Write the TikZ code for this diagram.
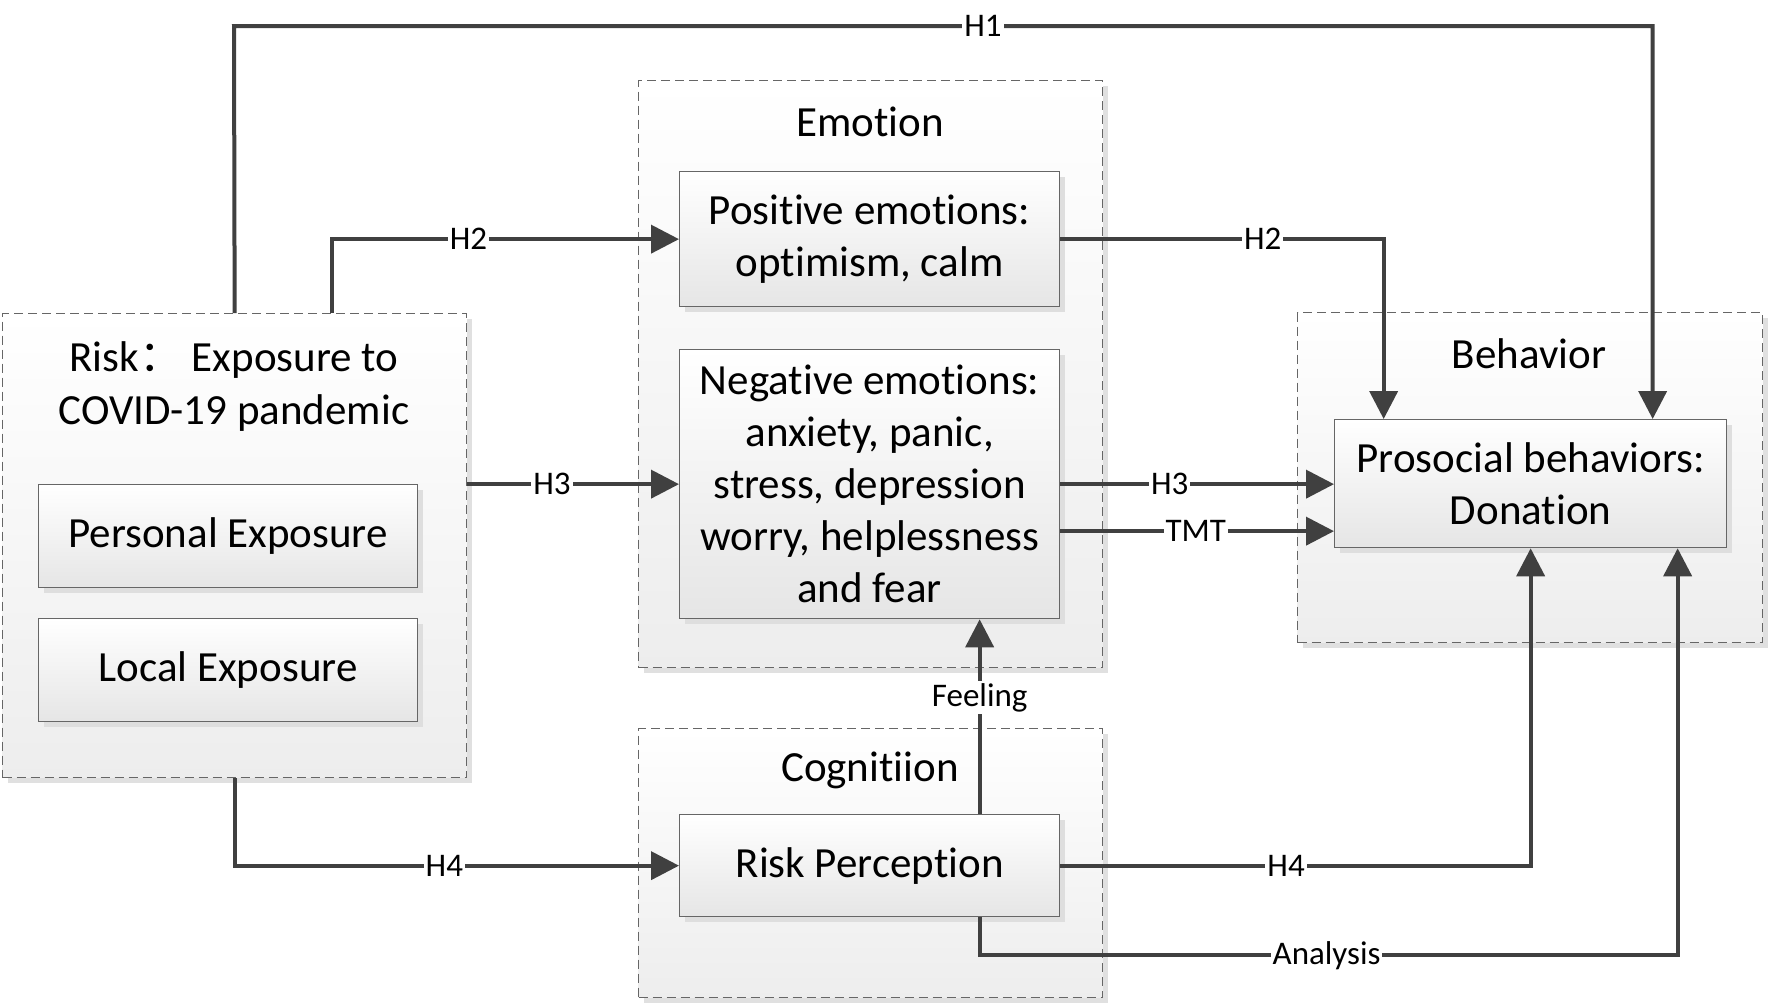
\documentclass[tikz,border=0pt]{standalone}
\usepackage{fontspec}
\setmainfont{Carlito}[Ligatures={NoCommon}]
\newfontfamily\cjkfont{Noto Sans CJK SC}
\usetikzlibrary{arrows.meta,shadows}
\definecolor{linec}{HTML}{404040}
\tikzset{
  container/.style={draw=black!60, line width=1.3pt, dash pattern=on 9pt off 5pt,
    top color=white, bottom color=black!7,
    drop shadow={fill=black!12, opacity=1, shadow xshift=5pt, shadow yshift=-5pt},
    anchor=north west, inner sep=0pt},
  box/.style={draw=black!60, line width=1.3pt, top color=white, bottom color=black!10,
    drop shadow={fill=black!13, opacity=1, shadow xshift=5pt, shadow yshift=-5pt},
    anchor=north west, inner sep=0pt, align=center,
    font=\fontsize{43}{52}\selectfont},
  title/.style={align=center, inner sep=0pt, font=\fontsize{43}{53}\selectfont},
  conn/.style={draw=linec, line width=4pt, -{Triangle[length=28pt,width=28pt]}},
  lbl/.style={fill=white, inner sep=2pt, text=black, font=\fontsize{33}{40}\selectfont}
}
\begin{document}
\begin{tikzpicture}[x=1pt,y=-1pt]
\useasboundingbox (0,0) rectangle (1770,1004);
\fill[white] (0,0) rectangle (1770,1004);
% containers
\node[container, minimum width=464pt, minimum height=464pt] (risk) at (2,313) {};
\node[container, minimum width=464pt, minimum height=587pt] (emo) at (638,80) {};
\node[container, minimum width=464pt, minimum height=269pt] (cog) at (638,728) {};
\node[container, minimum width=465pt, minimum height=330pt] (beh) at (1297,312) {};
% titles
\node[title] (risktitle) at (234,387) {Risk{\cjkfont ：} Exposure to\\COVID-19 pandemic};
\node[title] (emotitle) at (870,122) {Emotion};
\node[title] (cogtitle) at (870,770) {Cognitiion};
\node[title] (behtitle) at (1529,354) {Behavior};
% boxes
\node[box, minimum width=379pt, minimum height=103pt] (pers) at (38,484) {Personal Exposure};
\node[box, minimum width=379pt, minimum height=103pt] (loc) at (38,618) {Local Exposure};
\node[box, minimum width=380pt, minimum height=135pt] (pos) at (679,171) {Positive emotions:\\optimism, calm};
\node[box, minimum width=380pt, minimum height=269pt] (neg) at (679,349) {Negative emotions:\\anxiety, panic,\\stress, depression\\worry, helplessness\\and fear};
\node[box, minimum width=380pt, minimum height=102pt] (rp) at (679,814) {Risk Perception};
\node[box, minimum width=392pt, minimum height=128pt] (pro) at (1334,419) {Prosocial behaviors:\\Donation};
% coordinates
\coordinate (h1l) at (234,26);
\coordinate (h1r) at ([xshift=122pt]pro.north |- h1l);
\coordinate (tmt) at ([yshift=-47pt]neg.east);
\coordinate (an) at ([xshift=110pt]rp.south);
\coordinate (anb) at ([yshift=-38pt]an);
% connectors
\draw[conn] (risk.north) -- (h1l) -- node[lbl,pos=0.528]{H1} (h1r) -- ([xshift=122pt]pro.north);
\draw[conn] ([xshift=97pt]risk.north) |- node[lbl,pos=0.697]{H2} (pos.west);
\draw[conn] (pos.east) -| node[lbl,pos=0.313]{H2} ([xshift=-147pt]pro.north);
\draw[conn] (risk.east |- neg.west) -- node[lbl,pos=0.40]{H3} (neg.west);
\draw[conn] (neg.east) -- node[lbl,pos=0.40]{H3} (pro.west |- neg.east);
\draw[conn] (tmt) -- node[lbl,pos=0.495]{TMT} (pro.west |- tmt);
\draw[conn] (risk.south) |- node[lbl,pos=0.736]{H4} (rp.west);
\draw[conn] (rp.east) -| node[lbl,pos=0.24]{H4} (pro.south);
\draw[conn] (an) -- (anb) -| node[lbl,pos=0.2485]{Analysis} ([xshift=147pt]pro.south);
\draw[conn] ([xshift=110pt]rp.north) -- node[lbl,pos=0.597]{Feeling} ([xshift=110pt]neg.south);
\end{tikzpicture}
\end{document}
